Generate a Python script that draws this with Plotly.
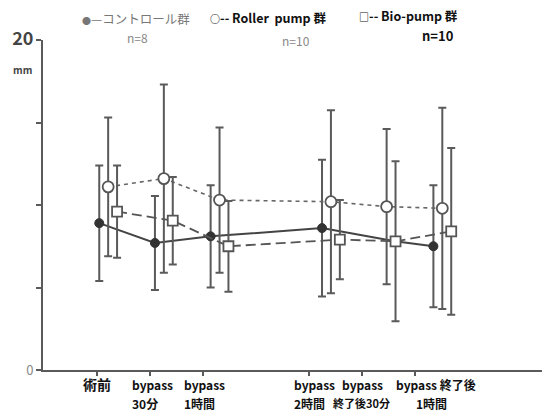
import plotly.graph_objects as go

# Categories (time points): first / second line of each label, and group index
label_line1 = ["術前", "bypass", "bypass", "bypass", "bypass", "bypass 終了後"]
label_line2 = ["", "30分", "1時間", "2時間", "終了後30分", "1時間"]
group_idx = [0, 1, 2, 4, 5, 6]

# Control group (n=8)
ctrl_mean = [8.9, 7.7, 8.1, 8.6, 7.8, 7.5]
ctrl_sd = [3.5, 2.85, 3.1, 4.15, None, 3.7]

# Roller pump group (n=10)
roller_mean = [11.1, 11.6, 10.3, 10.2, 9.9, 9.8]
roller_sd = [4.2, 5.7, 4.4, 5.55, 4.7, 6.1]

# Bio-pump group (n=10)
bio_mean = [9.6, 9.05, 7.5, 7.9, 7.8, 8.4]
bio_sd = [2.8, 2.65, 2.75, 2.4, 4.85, 5.05]

# small horizontal offsets so the three series don't overlap
ctrl_off = [0, 0, 0, 0, 0.31, 0]
roller_off = 0.16
bio_off = 0.32

ctrl_x = [g + o for g, o in zip(group_idx, ctrl_off)]
roller_x = [g + roller_off for g in group_idx]
bio_x = [g + bio_off for g in group_idx]
tick_pos = [g * 0.953 - 0.047 for g in group_idx]

FONT = "Noto Sans CJK JP, sans-serif"
GRAY = "#5a5a5a"

fig = go.Figure()

fig.add_trace(go.Scatter(
    x=ctrl_x, y=ctrl_mean, mode="lines+markers",
    line=dict(color="#444", width=2),
    marker=dict(symbol="circle", size=9, color="#333", line=dict(color="#333", width=1)),
    error_y=dict(type="data", array=ctrl_sd, visible=True, color=GRAY, thickness=2, width=4),
    showlegend=False))

fig.add_trace(go.Scatter(
    x=roller_x, y=roller_mean, mode="lines+markers",
    line=dict(color="#666", width=1.6, dash="4px,4px"),
    marker=dict(symbol="circle", size=11, color="white", line=dict(color="#555", width=1.8)),
    error_y=dict(type="data", array=roller_sd, visible=True, color=GRAY, thickness=2, width=4),
    showlegend=False))

fig.add_trace(go.Scatter(
    x=bio_x, y=bio_mean, mode="lines+markers",
    line=dict(color="#555", width=1.8, dash="10px,5px"),
    marker=dict(symbol="square", size=10, color="white", line=dict(color="#555", width=1.8)),
    error_y=dict(type="data", array=bio_sd, visible=True, color=GRAY, thickness=2, width=4),
    showlegend=False))

def py2paper(py):
    return (370 - py) / 330

def px2paper(px, py):
    return (px - 43) / 499, py2paper(py)

# legend-like header texts
annots = [
    ("<span style='font-size:9px'>●</span>—コントロール群", 136, 18, 12.5, "#777", False),
    ("n=8", 137, 38, 12, "#888", False),
    ("<span style='font-size:10px'>○</span>-- Roller  pump 群", 268, 17, 12.5, "#111", True),
    ("n=10", 296, 40, 12, "#888", False),
    ("<span style='font-size:10px'>□</span>-- Bio-pump 群", 408, 15, 12.5, "#111", True),
    ("n=10", 438, 35, 13, "#111", True),
    ("mm", 22, 69, 10, "#444", True),
]
for txt, px, py, sz, col, bold in annots:
    x, y = px2paper(px, py)
    fig.add_annotation(x=x, y=y, xref="paper", yref="paper", showarrow=False,
                       text=f"<b>{txt}</b>" if bold else txt,
                       font=dict(family=FONT, size=sz, color=col),
                       xanchor="center", yanchor="middle")

# category labels under the x axis (two lines each)
line_style = [  # (anchor, xshift line1, xshift line2, size line2)
    ("center", 0, 0, 12),
    ("left", -20, -20, 12),
    ("left", -21, -21, 12),
    ("left", -17, -17, 12),
    ("center", 0, -1, 11),
    ("left", -21, 16, 12),
]
for i, (anc, sh1, sh2, sz2) in enumerate(line_style):
    fig.add_annotation(x=tick_pos[i], y=py2paper(384), xref="x", yref="paper",
                       showarrow=False, text=f"<b>{label_line1[i]}</b>",
                       font=dict(family=FONT, size=14 if i == 0 else 12, color="#111"),
                       xanchor=anc, yanchor="middle", xshift=sh1)
    if label_line2[i]:
        fig.add_annotation(x=tick_pos[i], y=py2paper(403), xref="x", yref="paper",
                           showarrow=False, text=f"<b>{label_line2[i]}</b>",
                           font=dict(family=FONT, size=sz2, color="#111"),
                           xanchor=("center" if i == 5 else anc), yanchor="middle",
                           xshift=sh2)

fig.update_layout(
    width=542, height=418,
    margin=dict(l=43, r=0, t=40, b=48),
    paper_bgcolor="white", plot_bgcolor="white",
    font=dict(family=FONT),
    xaxis=dict(range=[-1.01, 7.95], tickmode="array", tickvals=tick_pos,
               showticklabels=False, automargin=False,
               ticks="outside", ticklen=4, tickwidth=1.5, tickcolor=GRAY,
               showline=True, linecolor=GRAY, linewidth=2,
               showgrid=False, zeroline=False),
    yaxis=dict(range=[0, 20], tickmode="array", tickvals=[0, 5, 10, 15, 20],
               ticktext=["0", "", "", "", "<span style='font-size:18px;color:#444'><b>20</b></span>"],
               tickfont=dict(family=FONT, size=13, color="#888"),
               automargin=False,
               ticks="outside", ticklen=5, tickwidth=1.5, tickcolor=GRAY,
               showline=True, linecolor=GRAY, linewidth=2,
               showgrid=False, zeroline=False),
)

fig.write_html("out.html")
